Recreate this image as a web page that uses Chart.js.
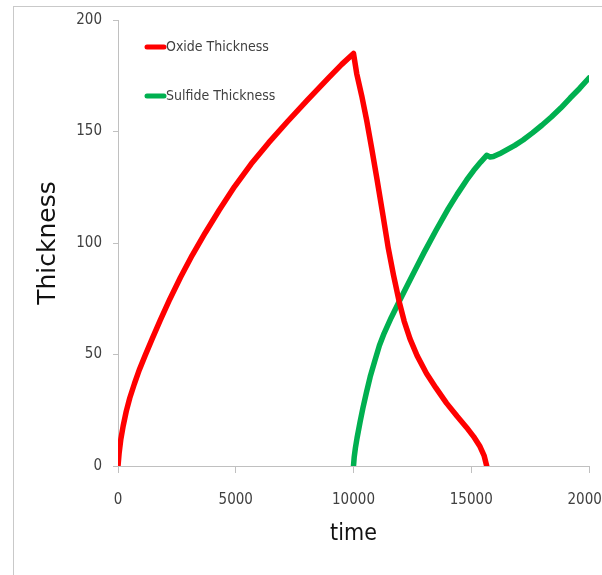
<!DOCTYPE html>
<html>
<head>
<meta charset="utf-8">
<script src="https://cdn.jsdelivr.net/npm/chart.js@4/dist/chart.umd.min.js"></script>
<style>
  html, body { margin: 0; padding: 0; background: #fff; overflow: hidden; }
  #frame { position: absolute; left: 13px; top: 6px; width: 700px; height: 700px; border: 1px solid #c9c9c9; }
  #wrap { position: absolute; left: 0; top: 0; width: 640px; height: 575px; }
</style>
</head>
<body>
<div id="frame"></div>
<div id="wrap"><canvas id="thicknessChart"></canvas></div>
<script>
// oxide grows until t = 10000, then is consumed
var oxideTime = [0, 50, 120, 220, 350, 500, 700, 900, 1150, 1450, 1800, 2200, 2650, 3150, 3700, 4300, 4950, 5650,
                 6400, 7200, 8050, 8950, 9500, 10000,
                 10136, 10350, 10560, 10772, 11000, 11250, 11480, 11700, 11945, 12150, 12400, 12700, 13100, 13500,
                 13950, 14400, 14800, 15100, 15372, 15550, 15656];
var oxideThk = [0, 6, 12, 18, 24.5, 30.5, 37, 43, 49.5, 57, 65.5, 74.8, 84.5, 94.5, 104.5, 114.8, 125.3, 135.4,
                145, 154.5, 164.2, 174.2, 180.1, 185,
                176, 166, 155, 142.5, 128.5, 112.5, 97.5, 85.5, 73.5, 65, 57, 49.5, 41.5, 35,
                28.2, 22.3, 17.3, 13.2, 8.7, 4.5, 0];

// sulfide starts at t = 10000
var sulfideTime = [10000, 10030, 10080, 10150, 10283, 10400, 10550, 10708, 10900, 11100, 11300, 11600, 11950, 12250,
                   12600, 13000, 13500, 14025, 14400, 14806, 15100, 15400, 15656, 15800, 15939, 16200, 16504, 16850,
                   17200, 17600, 18000, 18400, 18800, 19200, 19600, 20000];
var sulfideThk = [0, 4, 8, 12.5, 20, 26, 33, 40, 47, 54, 59.5, 66.5, 74, 80.3,
                  87.6, 95.8, 105.6, 115.4, 121.8, 128.3, 132.5, 136.3, 139.3, 138.6, 138.8, 140, 141.8, 143.8,
                  146.2, 149.4, 152.8, 156.5, 160.5, 165, 169.3, 174];

var seriesNames = ["Oxide Thickness", "Sulfide Thickness"];
var seriesColors = ['#ff0000', '#00b050'];

function toPoints(xs, ys) {
  var pts = [];
  for (var i = 0; i < xs.length; i++) {
    pts.push({x: xs[i], y: ys[i]});
  }
  return pts;
}

var narrowFont = "'Liberation Sans Narrow', 'DejaVu Sans Condensed', sans-serif";
var axisGrey = '#c0c0c0';

// legend drawn inside the plot, two stacked entries at the top left
var insideLegend = {
  id: 'insideLegend',
  afterDraw: function (chart) {
    var ctx = chart.ctx;
    var area = chart.chartArea;
    var x0 = area.left + 29;
    ctx.save();
    ctx.font = '14px ' + narrowFont;
    ctx.textBaseline = 'middle';
    ctx.textAlign = 'left';
    chart.data.datasets.forEach(function (ds, i) {
      var y = area.top + 27 + i * 49;
      ctx.strokeStyle = ds.borderColor;
      ctx.lineWidth = 5;
      ctx.lineCap = 'round';
      ctx.beginPath();
      ctx.moveTo(x0, y);
      ctx.lineTo(x0 + 17, y);
      ctx.stroke();
      ctx.fillStyle = '#404040';
      ctx.fillText(ds.label, x0 + 19, y);
    });
    ctx.restore();
  }
};

var thicknessChart = document.getElementById("thicknessChart");
var thicknessChartConfig = {
  type: 'scatter',
  data: {
    datasets: [{
      label: seriesNames[0],
      data: toPoints(oxideTime, oxideThk),
      borderColor: seriesColors[0],
      backgroundColor: seriesColors[0]
    }, {
      label: seriesNames[1],
      data: toPoints(sulfideTime, sulfideThk),
      borderColor: seriesColors[1],
      backgroundColor: seriesColors[1]
    }]
  },
  options: {
    responsive: true,
    maintainAspectRatio: false,
    animation: false,
    layout: {
      padding: {left: 0, top: 20, right: 51, bottom: 0}
    },
    datasets: {
      scatter: {
        showLine: true,
        borderWidth: 5.5,
        tension: 0,
        pointRadius: 0,
        pointHoverRadius: 0,
        borderJoinStyle: 'round',
        borderCapStyle: 'round'
      }
    },
    plugins: {
      legend: {display: false},
      tooltip: {enabled: false}
    },
    scales: {
      x: {
        type: 'linear',
        min: 0,
        max: 20000,
        afterFit: function (scale) { scale.height = 109; },
        border: {display: true, color: axisGrey, width: 1},
        grid: {display: true, drawOnChartArea: false, drawTicks: true, tickLength: 7, color: axisGrey},
        ticks: {
          stepSize: 5000,
          padding: 18,
          maxRotation: 0,
          color: '#404040',
          font: {family: narrowFont, size: 15},
          callback: function (v) { return String(v); }
        },
        title: {
          display: true,
          text: 'time',
          color: '#111',
          font: {family: narrowFont, size: 23},
          padding: {top: 0, bottom: 27}
        }
      },
      y: {
        min: 0,
        max: 200,
        afterFit: function (scale) { scale.width = 118; },
        border: {display: true, color: axisGrey, width: 1},
        grid: {display: true, drawOnChartArea: false, drawTicks: true, tickLength: 5, color: axisGrey},
        ticks: {
          stepSize: 50,
          padding: 11,
          color: '#404040',
          font: {family: narrowFont, size: 15},
          callback: function (v) { return String(v); }
        },
        title: {
          display: true,
          text: 'Thickness',
          color: '#111',
          font: {family: "'DejaVu Sans', sans-serif", size: 25},
          padding: {top: 33, bottom: 0}
        }
      }
    }
  },
  plugins: [insideLegend]
};
var thicknessChartObj = new Chart(thicknessChart, thicknessChartConfig);
</script>
</body>
</html>
